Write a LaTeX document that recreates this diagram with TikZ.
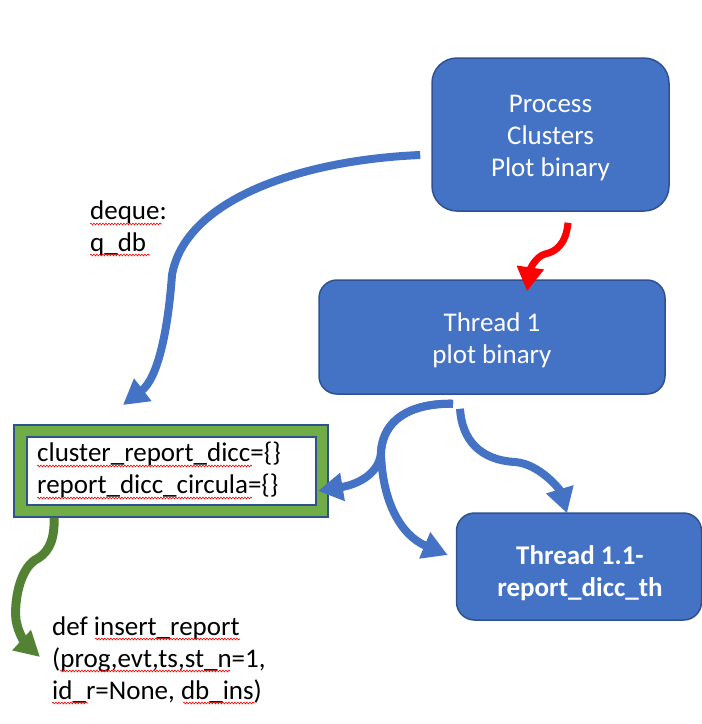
\documentclass[tikz,border=0pt]{standalone}
\usepackage{fontspec}
\setmainfont{Carlito}
\usetikzlibrary{arrows.meta,calc,decorations.pathmorphing}
\definecolor{boxblue}{HTML}{4472C4}
\definecolor{edgeblue}{HTML}{2F528F}
\definecolor{boxgreen}{HTML}{70AD47}
\definecolor{arrgreen}{HTML}{548235}
\begin{document}
\begin{tikzpicture}[x=1pt,y=-1pt,
  bluebox/.style={draw=edgeblue,line width=1.5pt,fill=boxblue,rounded corners=#1,inner sep=0},
  wtext/.style={text=white,font=\fontsize{27}{32}\selectfont,align=center,inner sep=0},
  ktext/.style={text=black,font=\fontsize{27}{32}\selectfont,align=left,inner sep=0,anchor=north west},
  barrow/.style={draw=boxblue,line width=8pt,-{Triangle[length=25pt,width=27pt]}},
  rarrow/.style={draw=red,line width=7pt,-{Triangle[length=24pt,width=26pt]}},
  garrow/.style={draw=arrgreen,line width=9pt,-{Triangle[length=25pt,width=26pt]}},
  squig/.style={draw=red,line width=0.6pt,decorate,decoration={snake,amplitude=0.9pt,segment length=3pt}}
]
\useasboundingbox (0,0) rectangle (702,724);

% boxes
\node[bluebox=25pt,minimum width=237pt,minimum height=153pt] (proc) at (550.5,134.5) {};
\node[wtext] (proctxt) at ([yshift=-4pt]proc.center) {Process\\Clusters\\Plot binary};

\node[bluebox=18pt,minimum width=346pt,minimum height=114pt] (t1) at (492,337) {};
\node[wtext] (t1txt) at ([yshift=-3pt]t1.center) {Thread 1\\plot binary};

\node[bluebox=18pt,minimum width=245pt,minimum height=107pt] (t11) at (579,566.5) {};
\node[wtext,font=\fontsize{27}{32}\selectfont\bfseries] (t11txt) at ([xshift=1pt,yshift=-7pt]t11.center) {Thread 1.1-\\report\_dicc\_th};

\node[draw=edgeblue,line width=1.8pt,fill=boxgreen,minimum width=314pt,minimum height=92pt,inner sep=0] (gbox) at (171,471) {};
\node[draw=edgeblue,line width=1.2pt,fill=white,minimum width=289pt,minimum height=68pt,inner sep=0] (wbox) at (171.5,471) {};
\node[ktext] (dicc) at (37,442) {cluster\_report\_dicc=\{\}\\report\_dicc\_circula=\{\}};

% labels
\node[ktext] (deque) at (90,201) {deque:\\q\_db};
\node[ktext] (insrep) at (52,617) {def insert\_report\\(prog,evt,ts,st\_n=1,\\id\_r=None, db\_ins)};

% spell-check squiggles
\draw[squig] (90,224) -- (162,224);
\draw[squig] (90,255) -- (150,255);
\draw[squig] (37,466) -- (252,466);
\draw[squig] (37,498) -- (252,498);
\draw[squig] (95,639) -- (240,639);
\draw[squig] (60,671) -- (230,671);
\draw[squig] (52,703) -- (88,703);
\draw[squig] (183,703) -- (255,703);

% connectors
\coordinate (qend) at (123,405);
\draw[barrow] ($(proc.west)+(-11,20.5)$) .. controls (300,160) and (185,200) .. (172,275)
   .. controls (168,330) and (158,378) .. (qend);

\draw[rarrow] ($(proc.south)+(17.5,11)$) .. controls (566,245) and (555,252) .. (545,254)
   .. controls (535,257) and (530,270) .. ($(t1.north)+(35,12)$);

\coordinate (fork) at (381,452);
\draw[barrow] ($(t1.south)+(-39,9)$) .. controls (410,403) and (383,420) .. (fork)
   .. controls (380,472) and (360,484) .. ($(gbox.east)+(-11,20)$);
\draw[barrow] ($(t1.south)+(-39,9)$) .. controls (410,403) and (383,420) .. (fork)
   .. controls (382,500) and (400,535) .. ($(t11.west)+(-8,-11.5)$);

\draw[barrow] ($(t1.south)+(-32,14)$) .. controls (462,440) and (480,460) .. (515,462)
   .. controls (540,464) and (560,490) .. ($(t11.north)+(-12,1)$);

\coordinate (gend) at (40,657);
\draw[garrow] ($(gbox.south west)+(41,0)$) .. controls (55,545) and (45,555) .. (35,560)
   .. controls (20,570) and (14,600) .. (16,620) .. controls (19,637) and (28,646) .. (gend);
\end{tikzpicture}
\end{document}
